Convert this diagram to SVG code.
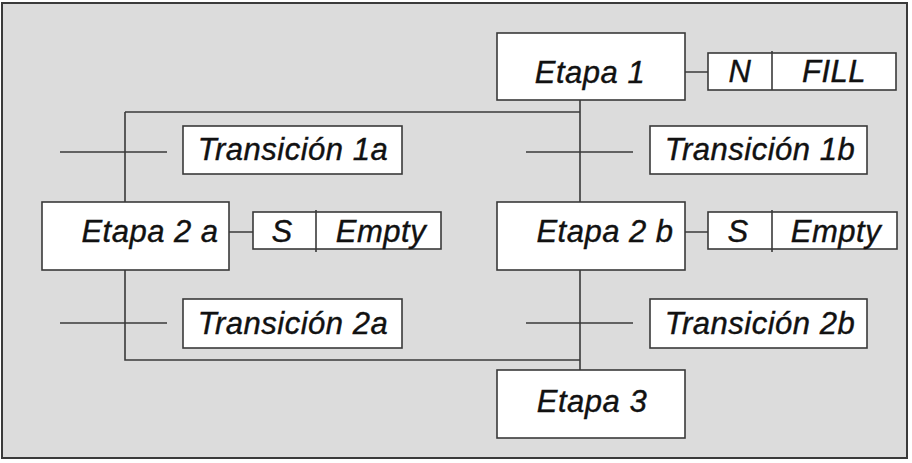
<svg xmlns="http://www.w3.org/2000/svg" width="912" height="463" viewBox="0 0 912 463">
<style>
.box{fill:#fff;stroke:#3a3a3a;stroke-width:1.6}
.ln{stroke:#3a3a3a;stroke-width:1.6;fill:none}
.t{font-family:"Liberation Sans",Arial,sans-serif;font-style:italic;font-size:31px;letter-spacing:0.5px;fill:#111;stroke:#111;stroke-width:0.4;text-anchor:middle}
</style>
<rect x="0" y="0" width="912" height="463" fill="#fff"/>
<rect x="2" y="3" width="905" height="455" fill="#dcdcdc" stroke="#3a3a3a" stroke-width="2"/>
<g id="connectors">
<path class="ln" d="M580 100V202M125 112H580M125 112V202M125 270V360H580M580 270V370"/>
<path class="ln" d="M60 152H167M526 152H633M60 323H167M526 323H633"/>
<path class="ln" d="M685 72H708M229 232H253M685 232H708"/>
</g>
<g id="etapa1"><rect class="box" x="497" y="33" width="188" height="67"/><text class="t" x="590" y="83">Etapa 1</text></g>
<g id="accion1"><rect class="box" x="708" y="53" width="188" height="37"/><path class="ln" d="M772 51V90"/><text class="t" x="740" y="82">N</text><text class="t" x="834" y="82">FILL</text></g>
<g id="transicion1a"><rect class="box" x="183" y="126" width="219" height="48"/><text class="t" x="293" y="160">Transición 1a</text></g>
<g id="transicion1b"><rect class="box" x="650" y="126" width="217" height="48"/><text class="t" x="760" y="160">Transición 1b</text></g>
<g id="etapa2a"><rect class="box" x="42" y="202" width="187" height="68"/><text class="t" x="150" y="242">Etapa 2 a</text></g>
<g id="accion2a"><rect class="box" x="253" y="212" width="188" height="37"/><path class="ln" d="M316 210V252"/><text class="t" x="282" y="242">S</text><text class="t" x="381" y="242">Empty</text></g>
<g id="etapa2b"><rect class="box" x="497" y="202" width="188" height="68"/><text class="t" x="605" y="242">Etapa 2 b</text></g>
<g id="accion2b"><rect class="box" x="708" y="212" width="189" height="37"/><path class="ln" d="M772 210V252"/><text class="t" x="738" y="242">S</text><text class="t" x="836" y="242">Empty</text></g>
<g id="transicion2a"><rect class="box" x="183" y="299" width="219" height="49"/><text class="t" x="293" y="334">Transición 2a</text></g>
<g id="transicion2b"><rect class="box" x="650" y="299" width="217" height="49"/><text class="t" x="760" y="334">Transición 2b</text></g>
<g id="etapa3"><rect class="box" x="497" y="370" width="188" height="68"/><text class="t" x="592" y="412">Etapa 3</text></g>
</svg>
